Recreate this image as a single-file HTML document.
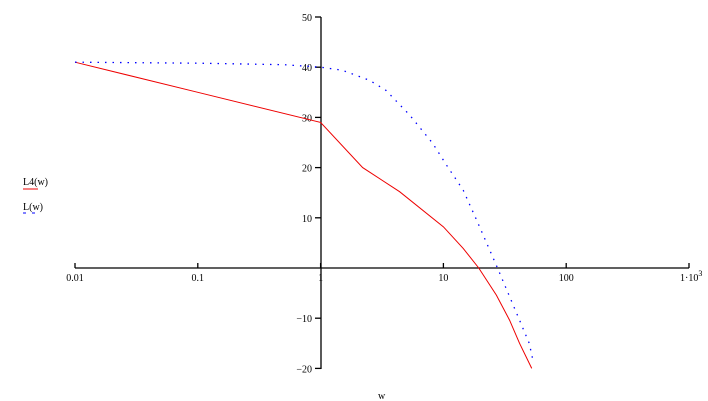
<!DOCTYPE html>
<html><head><meta charset="utf-8"><style>
body{margin:0;background:#fff;}
svg{display:block;font-family:"Liberation Serif",serif;}
text{font-size:10px;fill:#000;}
</style></head><body>
<svg width="708" height="401">
<g id="axes"></g>
<g id="plot"></g>
<text x="23" y="185">L4(w)</text>
<line x1="23" y1="189" x2="38" y2="189" stroke="#e00" stroke-width="1"/>
<text x="23" y="210">L(w)</text>
<line x1="23" y1="213" x2="35" y2="213" stroke="#00f" stroke-width="1" stroke-dasharray="3,6"/>
<text x="378" y="399">w</text>
</svg>
<script>
const xTicks=[0.01,0.1,1,10,100,1000];
const xTickLabels=["0.01","0.1","1","10","100","1·10"];
const yTicks=[50,40,30,20,10,-10,-20];
const l4W=[0.01,0.1,1,2.2,4.4,10,14.5,19.4,27,34.6,41.7,52.4];
const l4Db=[41,35,29,20,15.2,8.2,3.9,0,-5.4,-10.4,-15,-20];
const lW=[0.01,0.1,0.5,1,1.5,2.5,3.4,5.3,8.2,10.6,14.5,18.6,23.8,28.7,34.6,41.7,50,54.3];
const lDb=[41,40.8,40.5,40,39.4,37.4,35.4,30.5,24.8,20.5,15.5,9.6,3.6,-1,-5.7,-10.4,-15,-19];
const X=w=>75+(Math.log10(w)+2)*122.8;
const Y=v=>268-v*5.02;
const NS="http://www.w3.org/2000/svg";
const ax=document.getElementById('axes'),pl=document.getElementById('plot');
function mk(tag,attrs,parent){const e=document.createElementNS(NS,tag);for(const k in attrs)e.setAttribute(k,attrs[k]);parent.appendChild(e);return e;}
let e=mk('line',{x1:75,y1:268,x2:689,y2:268,stroke:'#000','stroke-width':1.3},ax);


e=mk('line',{x1:321,y1:17,x2:321,y2:369,stroke:'#000','stroke-width':1.3},ax);


xTicks.forEach((t,i)=>{const x=X(t);
 let l=mk('line',{x1:x,y1:263,x2:x,y2:268,stroke:'#000','stroke-width':1.3},ax);
 
 
 let tx=mk('text',{x:i==5?x-9:x,y:281,'text-anchor':i==5?'start':'middle'},ax);tx.textContent=xTickLabels[i];
 
 
 if(i==5){let s=mk('tspan',{dy:-5,'font-size':'8px'},tx);s.textContent='3';}
});
yTicks.forEach(t=>{const y=Y(t);
 let l=mk('line',{x1:315,y1:y,x2:321,y2:y,stroke:'#000','stroke-width':1.3},ax);
 
 
 let tx=mk('text',{x:312,y:y+4,'text-anchor':'end'},ax);tx.textContent=String(t).replace('-','−');
 
 
});
let p=mk('polyline',{points:l4W.map((w,i)=>X(w)+','+Y(l4Db[i])).join(' '),fill:'none',stroke:'#e00','stroke-width':1},pl);


p=mk('polyline',{points:lW.map((w,i)=>X(w)+','+Y(lDb[i])).join(' '),fill:'none',stroke:'#00f','stroke-width':1.3,'stroke-dasharray':'1.5,6'},pl);


</script>
</body></html>
